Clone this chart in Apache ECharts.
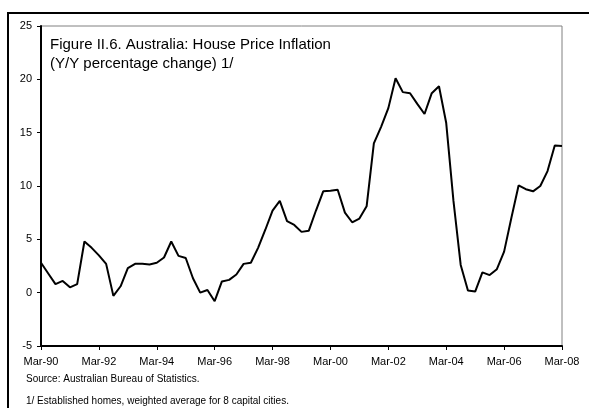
<!DOCTYPE html>
<html>
<head>
<meta charset="utf-8">
<script src="https://cdn.jsdelivr.net/npm/echarts@6/dist/echarts.min.js"></script>
<style>
html,body{margin:0;padding:0;background:#fff;}
#chart{width:589px;height:408px;}
</style>
</head>
<body>
<div id="chart"></div>
<script>
// Quarterly categories Mar-90 .. Mar-08
const quarterNames = ["Mar", "Jun", "Sep", "Dec"];
const startYear = 1990, endYear = 2008;
const categories = [];
for (let y = startYear; y <= endYear; y++) {
  for (let q = 0; q < 4; q++) {
    if (y === endYear && q > 0) break;
    categories.push(quarterNames[q] + "-" + String(y).slice(2));
  }
}
// Y/Y house price inflation (%)
const houseInflation = [
  2.8, 1.8, 0.8, 1.1, 0.5, 0.8, 4.8, 4.2, 3.5, 2.7,
  -0.3, 0.6, 2.3, 2.7, 2.7, 2.65, 2.8, 3.3, 4.8, 3.45,
  3.25, 1.35, 0.0, 0.25, -0.8, 1.05, 1.2, 1.7, 2.7, 2.8,
  4.2, 5.9, 7.7, 8.6, 6.7, 6.35, 5.7, 5.8, 7.7, 9.5,
  9.55, 9.65, 7.5, 6.6, 6.95, 8.1, 14.0, 15.55, 17.3, 20.1,
  18.8, 18.7, 17.7, 16.75, 18.7, 19.35, 15.9, 8.6, 2.6, 0.2,
  0.1, 1.9, 1.65, 2.2, 3.85, 7.0, 10.05, 9.7, 9.5, 10.0,
  11.4, 13.8, 13.75
];
const yTicks = [-5, 0, 5, 10, 15, 20, 25];
const titleLines = ["Figure II.6. Australia: House Price Inflation", "(Y/Y percentage change) 1/"];
const notes = ["Source: Australian Bureau of Statistics.", "1/ Established homes, weighted average for 8 capital cities."];

const chart = echarts.init(document.getElementById('chart'), null, {renderer: 'canvas'});
const font = 'Arial, "Liberation Sans", sans-serif';
chart.setOption({
  animation: false,
  backgroundColor: '#fff',
  grid: {left: 41, top: 26, right: 27, bottom: 62, show: true, borderColor: '#808080', borderWidth: 1, backgroundColor: 'transparent'},
  xAxis: {
    type: 'category',
    data: categories,
    boundaryGap: false,
    axisLine: {onZero: false, lineStyle: {color: '#000', width: 2}},
    axisTick: {show: true, interval: 7, length: 4, lineStyle: {color: '#000', width: 1}},
    axisLabel: {interval: 7, color: '#000', fontSize: 11, fontFamily: font, margin: 10},
    splitLine: {show: false}
  },
  yAxis: {
    type: 'value',
    min: yTicks[0], max: yTicks[yTicks.length - 1], interval: 5,
    axisLine: {show: true, lineStyle: {color: '#000', width: 2}},
    axisTick: {show: true, length: 4, lineStyle: {color: '#000', width: 1}},
    axisLabel: {color: '#000', fontSize: 11, fontFamily: font, margin: 9},
    splitLine: {show: false}
  },
  series: [{
    type: 'line',
    data: houseInflation,
    showSymbol: false,
    symbol: 'none',
    lineStyle: {color: '#000', width: 2},
    z: 3
  }],
  graphic: [
    {type: 'rect', shape: {x: 8, y: 13, width: 700, height: 500}, style: {fill: 'none', stroke: '#000', lineWidth: 2}, silent: true},
    {type: 'text', left: 50, top: 37, style: {text: titleLines[0], font: '15px ' + font, fill: '#000'}},
    {type: 'text', left: 50, top: 56, style: {text: titleLines[1], font: '15px ' + font, fill: '#000'}},
    {type: 'text', left: 26, top: 374, style: {text: notes[0], font: '10px ' + font, fill: '#000'}},
    {type: 'text', left: 26, top: 396, style: {text: notes[1], font: '10px ' + font, fill: '#000'}}
  ]
});
</script>
</body>
</html>
